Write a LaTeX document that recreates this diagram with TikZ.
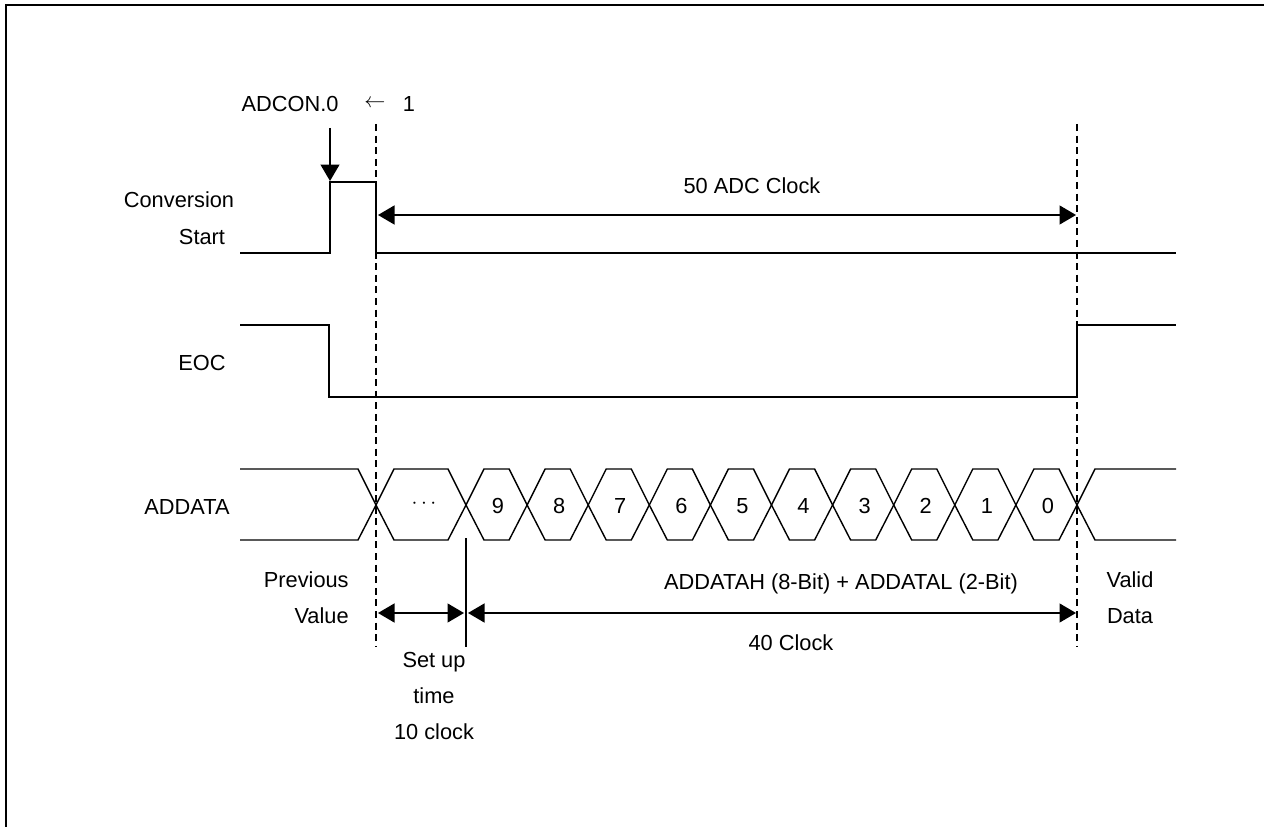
\documentclass[tikz,border=0pt]{standalone}
\usepackage{fontspec}
\setmainfont{Liberation Sans}
\usetikzlibrary{arrows.meta}

\begin{document}
\begin{tikzpicture}[
  x=0.02cm, y=-0.02cm,
  sig/.style={
    line width=0.8pt,
    line join=miter
  },
  guide/.style={
    line width=0.6pt,
    dash pattern=on 4pt off 2.6pt
  },
  arr/.style={
    -{Triangle[length=3.3mm,width=3.8mm]},
    line width=0.8pt
  },
  dblarr/.style={
    {Triangle[length=3.3mm,width=3.8mm]}-{Triangle[length=3.3mm,width=3.8mm]},
    line width=0.8pt
  },
  lbl/.style={
    font=\fontsize{12.4}{20.4}\selectfont,
    inner sep=0pt
  }
]

\useasboundingbox (0,0) rectangle (1264,827);
\draw[line width=1.2pt] (6,828) -- (6,5) -- (1265,5);

% Signal names
\node[lbl] (conv) at (179,200) {Conversion};
\node[lbl] (start) at (202,237) {Start};
\node[lbl] (eoc) at (202,363) {EOC};
\node[lbl] (addata) at (187,507) {ADDATA};

% Start trigger
\node[lbl] (adcon) at (290,104) {ADCON.0};
\node[lbl] (larrow) at (375,104) {$\leftarrow$};
\node[lbl] (one) at (409,104) {1};
\coordinate (trig) at (330,128);
\coordinate (csrise) at (330,181);
\draw[arr] (trig) -- (csrise);

% Time markers
\coordinate (t0top) at (376,124);
\coordinate (t0bot) at (376,647);
\coordinate (t2top) at (1077,124);
\coordinate (t2bot) at (1077,647);
\coordinate (t1top) at (466,538);
\coordinate (t1bot) at (466,647);
\draw[guide] (t0top) -- (t0bot);
\draw[guide] (t2top) -- (t2bot);
\draw[sig] (t1top) -- (t1bot);

% Conversion start
\draw[sig] (240,253) -- (330,253) -- (330,182) -- (376,182) -- (376,253) -- (1176,253);

% EOC
\draw[sig] (240,325) -- (329,325) -- (329,397) -- (1077,397) -- (1077,325) -- (1176,325);

% ADDATA
\draw[sig] (240,469) -- (358,469) -- (376,505) -- (358,540) -- (240,540);
\draw[sig] (376,505) -- (394,469) -- (448,469) -- (466,505) -- (448,540) -- (394,540) -- cycle;
\node[lbl] (dots) at (424,504) {$\cdots$};
\foreach \d [count=\i from 0] in {9,8,...,0} {
  \pgfmathsetmacro\xa{466+61.1*\i}
  \pgfmathsetmacro\xb{\xa+61.1}
  \draw[sig] (\xa,505) -- (\xa+18,469) -- (\xb-18,469) -- (\xb,505)
    -- (\xb-18,540) -- (\xa+18,540) -- cycle;
  \node[lbl] (bit\d) at (\xa+32,506) {\d};
}
\draw[sig] (1176,469) -- (1095,469) -- (1077,505) -- (1095,540) -- (1176,540);

% Durations
\node[lbl] (adcclk) at (752,186) {50 ADC Clock};
\coordinate (c50a) at (378,215);
\coordinate (c50b) at (1076,215);
\draw[dblarr] (c50a) -- (c50b);

\coordinate (setupa) at (378,613);
\coordinate (setupb) at (464,613);
\draw[dblarr] (setupa) -- (setupb);
\coordinate (c40a) at (468,613);
\coordinate (c40b) at (1076,613);
\draw[dblarr] (c40a) -- (c40b);

\node[lbl] (result) at (841,584) {ADDATAH (8-Bit) + ADDATAL (2-Bit)};
\node[lbl] (clk40) at (791,643) {40 Clock};
\node[lbl, align=right, anchor=east] (prev) at (349,598) {Previous\\Value};
\node[lbl, align=center] (setup) at (434,696) {Set up\\time\\10 clock};
\node[lbl, align=center] (valid) at (1130,598) {Valid\\Data};

\end{tikzpicture}
\end{document}
